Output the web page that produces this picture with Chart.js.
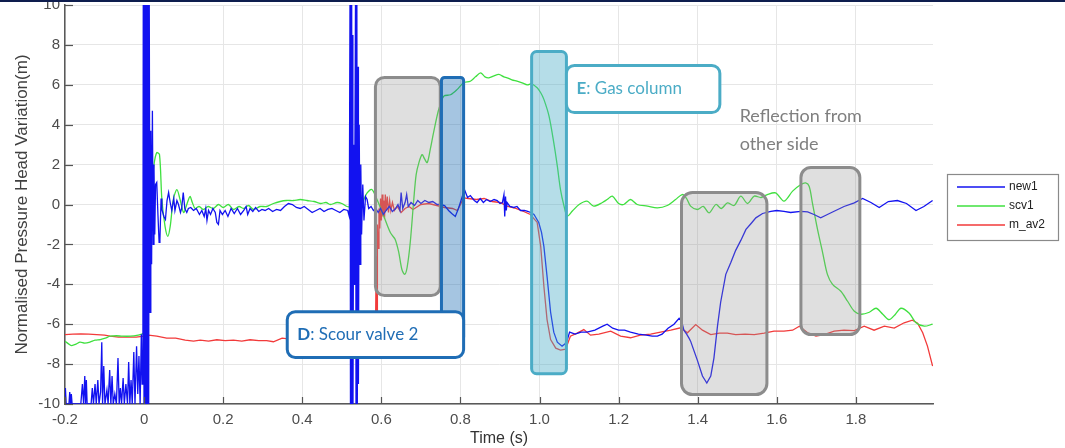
<!DOCTYPE html>
<html>
<head>
<meta charset="utf-8">
<script src="https://cdn.jsdelivr.net/npm/chart.js@4.4.1/dist/chart.umd.min.js"></script>
<style>
html,body{margin:0;padding:0;background:#fff;}
#wrap{position:relative;width:1065px;height:448px;}
</style>
</head>
<body>
<div id="wrap"><canvas id="c" width="1065" height="448"></canvas></div>
<script>
// ---------------- DATA ----------------
const seriesLabels = ['new1', 'scv1', 'm_av2'];
const xTickStep = 0.2;
const yTickStep = 2;

const new1Time = [
-0.200,-0.199,-0.197,-0.190,-0.188,-0.186,-0.184,-0.182,-0.160,-0.156,-0.153,-0.150,-0.148,-0.146,-0.144,
-0.134,-0.131,-0.128,-0.124,-0.121,-0.117,-0.114,-0.110,-0.107,-0.105,-0.102,-0.099,-0.094,-0.091,-0.087,
-0.084,-0.081,-0.078,-0.074,-0.070,-0.066,-0.063,-0.060,-0.057,-0.053,-0.050,-0.046,-0.042,-0.039,-0.036,
-0.033,-0.030,-0.026,-0.023,-0.019,-0.016,-0.013,-0.010,-0.007,-0.005,-0.003,-0.002,0.000,0.001,0.002,
0.003,0.004,0.005,0.006,0.007,0.008,0.009,0.010,0.011,0.012,0.013,0.015,0.017,0.019,0.021,
0.023,0.025,0.027,0.029,0.032,0.035,0.038,0.040,0.043,0.045,0.050,0.054,0.058,0.062,0.066,
0.070,0.075,0.078,0.083,0.087,0.092,0.095,0.099,0.103,0.108,0.112,0.118,0.125,0.132,0.140,
0.146,0.152,0.156,0.159,0.163,0.168,0.174,0.180,0.184,0.188,0.192,0.198,0.205,0.212,0.220,
0.228,0.236,0.244,0.252,0.258,0.262,0.268,0.275,0.282,0.290,0.298,0.306,0.315,0.325,0.335,
0.345,0.355,0.365,0.375,0.385,0.395,0.405,0.415,0.425,0.435,0.445,0.455,0.465,0.475,0.485,
0.495,0.505,0.515,0.519,0.521,0.522,0.524,0.525,0.527,0.528,0.530,0.532,0.533,0.535,0.536,
0.538,0.539,0.541,0.542,0.544,0.546,0.548,0.550,0.553,0.556,0.560,0.564,0.568,0.574,0.580,
0.586,0.592,0.598,0.605,0.612,0.620,0.628,0.636,0.642,0.647,0.650,0.654,0.660,0.664,0.668,
0.675,0.684,0.692,0.700,0.710,0.720,0.730,0.741,0.750,0.760,0.770,0.778,0.787,0.795,0.803,
0.810,0.818,0.825,0.835,0.842,0.850,0.858,0.866,0.875,0.885,0.893,0.900,0.906,0.910,0.912,
0.914,0.916,0.918,0.925,0.935,0.943,0.952,0.962,0.970,0.978,0.986,0.998,1.005,1.011,1.019,
1.028,1.036,1.045,1.057,1.064,1.070,1.076,1.090,1.105,1.120,1.140,1.160,1.171,1.185,1.200,
1.215,1.230,1.250,1.270,1.285,1.298,1.310,1.325,1.340,1.353,1.360,1.365,1.372,1.378,1.382,
1.390,1.399,1.412,1.423,1.433,1.441,1.450,1.458,1.471,1.484,1.496,1.509,1.522,1.535,1.547,
1.564,1.585,1.600,1.618,1.635,1.661,1.678,1.694,1.711,1.728,1.745,1.770,1.796,1.817,1.838,
1.859,1.882,1.905,1.928,1.952,1.972,1.994
];
const new1Head = [
-10,-9.2,-10,-10,-9.4,-10,-9.5,-10,-10,-9.0,-10,-8.6,-10,-8.8,-10,
-10,-9.2,-10,-9.0,-10,-8.8,-10,-9.4,-6.9,-10,-8.1,-10,-9.3,-10,-8.3,
-10,-8.6,-10,-9.5,-10,-7.7,-10,-9.2,-10,-8.7,-10,-9.0,-10,-7.9,-10,
-8.8,-10,-7.4,-10,-7.1,-9.5,-7.6,-10,-6.5,-9.0,-7.0,12,-12,12,-12,
12,-12,12,-12,12,-12,12,-12,12,-12,10.5,-5.4,3.7,-3.0,4.7,
-2.0,2.0,-1.5,1.0,1.1,-0.5,-1.9,-1.75,0.3,-0.25,-0.6,-0.75,0.2,0.6,0.1,
-0.3,0.3,-0.3,0.2,0.0,-0.4,-0.2,0.6,-0.2,-0.4,-0.2,-0.15,-0.3,-0.2,-0.5,
-0.3,-0.6,-0.2,-0.8,-0.3,-0.5,-0.2,-0.4,-0.9,-1.0,-0.3,-0.5,-0.3,-0.6,-0.2,
-0.45,-0.2,-0.5,-0.3,-0.1,-0.5,-0.2,-0.35,-0.15,-0.35,-0.25,-0.3,-0.2,-0.35,-0.25,
-0.3,-0.1,0.05,0.0,-0.15,-0.2,-0.1,-0.25,-0.4,-0.3,-0.2,-0.35,-0.25,-0.2,-0.3,
-0.4,-0.25,-0.3,-0.6,12,-12,12,-12,8.5,-12,3,-4,2,12,-12,
12,-12,6.9,-9,4,-3,2,-1.5,1.0,-0.8,0.4,0.25,-0.2,-0.1,-0.3,
-0.2,-0.4,-0.2,-0.5,-0.3,-0.1,-0.35,-0.2,0.0,-0.3,0.6,-0.2,0.1,0.5,-0.1,
0.1,-0.05,0.2,0.05,0.2,0.1,0.15,0.0,0.0,-0.05,-0.3,-0.45,-0.6,-0.2,0.3,
0.75,0.35,0.45,0.2,0.1,0.3,0.1,0.25,0.15,0.25,0.2,0.05,0.1,0.5,-0.6,
0.4,-0.3,0.1,-0.1,-0.15,-0.1,-0.3,-0.3,-0.35,-0.4,-0.5,-0.9,-1.4,-2.1,-3.6,
-5.4,-6.4,-6.9,-7.1,-7.0,-6.8,-6.4,-6.5,-6.4,-6.4,-6.3,-6.1,-6.0,-6.2,-6.3,
-6.3,-6.4,-6.5,-6.55,-6.6,-6.6,-6.5,-6.2,-6.0,-5.7,-5.9,-6.3,-6.5,-6.7,-6.85,
-7.3,-7.8,-8.6,-8.95,-8.6,-7.7,-6.1,-4.9,-3.5,-2.9,-2.3,-1.8,-1.25,-0.95,-0.67,
-0.45,-0.34,-0.3,-0.34,-0.4,-0.34,-0.37,-0.5,-0.67,-0.5,-0.34,-0.1,0.08,0.3,0.1,
-0.15,0.15,0.2,0.05,-0.3,-0.1,0.2
];

const scv1Time = [
-0.200,-0.190,-0.183,-0.172,-0.162,-0.150,-0.137,-0.124,-0.111,-0.098,-0.086,-0.070,-0.055,-0.035,-0.015,
-0.006,0.002,0.007,0.010,0.015,0.020,0.025,0.032,0.039,0.045,0.053,0.060,0.066,0.074,0.083,
0.091,0.100,0.108,0.116,0.122,0.129,0.139,0.150,0.162,0.175,0.188,0.200,0.213,0.226,0.240,
0.252,0.264,0.277,0.293,0.310,0.327,0.344,0.360,0.378,0.395,0.412,0.430,0.446,0.460,0.471,
0.488,0.500,0.513,0.525,0.538,0.552,0.564,0.576,0.589,0.606,0.623,0.635,0.644,0.652,0.659,
0.665,0.673,0.682,0.688,0.695,0.703,0.709,0.716,0.724,0.732,0.745,0.758,0.775,0.792,0.808,
0.825,0.838,0.851,0.862,0.872,0.885,0.897,0.910,0.918,0.930,0.943,0.956,0.969,0.980,0.994,
1.003,1.011,1.024,1.036,1.045,1.053,1.062,1.070,1.083,1.100,1.120,1.137,1.159,1.171,1.184,
1.200,1.213,1.230,1.247,1.273,1.298,1.323,1.344,1.361,1.372,1.382,1.399,1.414,1.429,1.446,
1.460,1.475,1.492,1.509,1.526,1.543,1.560,1.576,1.597,1.618,1.640,1.661,1.673,1.682,1.690,
1.703,1.716,1.728,1.741,1.762,1.779,1.796,1.813,1.834,1.851,1.868,1.884,1.900,1.914,1.935,
1.952,1.973,1.994
];
const scv1Head = [
-6.85,-7.0,-7.07,-7.0,-6.9,-6.95,-6.9,-6.8,-6.77,-6.7,-6.6,-6.58,-6.6,-6.6,-6.55,
-6.5,-6.4,-5.8,-4.8,-1.75,0.9,2.0,2.6,2.5,0.25,-1.1,-1.6,-1.1,0.25,0.75,
0.25,-0.4,0.0,0.4,0.1,-0.2,-0.1,-0.25,-0.1,-0.2,0.0,-0.15,0.0,-0.25,-0.1,
-0.2,-0.05,-0.25,-0.1,-0.1,0.05,0.15,0.2,0.2,0.25,0.2,0.15,0.05,0.1,0.0,
0.1,0.05,-0.1,-0.15,-0.33,0.1,0.58,0.75,0.25,-0.58,-1.42,-1.75,-2.4,-3.26,-3.5,
-3.17,-1.92,0.25,1.5,2.1,2.5,2.3,2.1,2.8,3.6,4.76,5.43,5.5,5.77,6.1,
6.18,6.4,6.6,6.4,6.35,6.45,6.52,6.4,6.35,6.25,6.18,6.1,6.0,6.05,5.85,
5.6,5.27,4.43,3.1,1.92,0.75,-0.08,-0.58,-0.33,0.0,0.17,-0.08,0.1,0.25,0.42,
0.05,0.0,0.25,0.0,-0.08,-0.17,-0.05,0.25,0.5,0.3,-0.08,-0.25,-0.1,-0.42,0.0,
-0.2,0.08,-0.05,0.42,0.05,0.42,0.35,0.5,0.58,0.17,0.67,1.0,1.08,0.9,0.08,
-1.25,-2.42,-3.5,-4.0,-4.35,-4.85,-5.35,-5.5,-5.4,-5.2,-5.5,-5.77,-5.5,-5.2,-5.45,
-5.93,-6.1,-6.0
];

const mav2Time = [
-0.200,-0.180,-0.160,-0.140,-0.120,-0.100,-0.086,-0.065,-0.044,-0.020,0.000,0.011,0.032,0.057,0.080,
0.104,0.125,0.142,0.163,0.184,0.205,0.226,0.247,0.268,0.290,0.310,0.327,0.349,0.370,0.400,
0.450,0.500,0.550,0.585,0.587,0.589,0.590,0.592,0.594,0.596,0.598,0.600,0.602,0.604,0.606,
0.608,0.610,0.612,0.615,0.618,0.621,0.624,0.628,0.633,0.640,0.650,0.660,0.670,0.680,0.700,
0.720,0.740,0.760,0.780,0.792,0.800,0.808,0.820,0.840,0.860,0.880,0.900,0.920,0.940,0.960,
0.977,0.994,1.003,1.011,1.019,1.028,1.041,1.053,1.066,1.078,1.095,1.112,1.129,1.150,1.180,
1.205,1.230,1.255,1.281,1.306,1.332,1.357,1.374,1.395,1.412,1.433,1.455,1.475,1.496,1.520,
1.543,1.568,1.593,1.618,1.640,1.657,1.678,1.699,1.720,1.745,1.770,1.796,1.821,1.846,1.872,
1.897,1.922,1.943,1.956,1.969,1.981,1.994
];
const mav2Head = [
-6.52,-6.5,-6.48,-6.5,-6.52,-6.55,-6.6,-6.65,-6.65,-6.65,-6.6,-6.55,-6.6,-6.7,-6.7,
-6.8,-6.85,-6.8,-6.85,-6.78,-6.82,-6.8,-6.85,-6.78,-6.82,-6.82,-6.88,-6.7,-6.75,-6.8,
-6.8,-6.8,-6.8,-6.8,-2.6,-5.5,-1.0,-2.2,-0.2,-1.2,0.3,-0.8,0.5,-0.6,0.2,
-0.7,0.5,-0.3,0.4,-0.4,0.2,-0.3,0.1,-0.3,-0.1,-0.4,-0.2,-0.1,-0.25,0.0,
0.05,-0.05,-0.15,-0.2,-0.3,0.0,0.33,0.3,0.25,0.3,0.15,0.1,-0.1,-0.2,-0.35,
-0.5,-0.9,-2.1,-4.1,-5.77,-6.77,-7.2,-7.3,-7.25,-6.6,-6.45,-6.27,-6.55,-6.5,-6.35,
-6.6,-6.68,-6.55,-6.5,-6.4,-6.3,-6.18,-6.43,-6.02,-6.3,-6.52,-6.45,-6.45,-6.52,-6.5,
-6.52,-6.45,-6.35,-6.35,-6.3,-6.1,-6.43,-6.6,-6.52,-6.35,-6.3,-6.32,-6.1,-6.3,-6.1,
-6.2,-5.93,-5.8,-5.95,-6.43,-7.1,-8.1
];

// ---------------- ANNOTATIONS (in data units) ----------------
const shadedBoxes = [
  {x0:0.585, x1:0.749, y0:6.37, y1:-4.56, fill:'rgba(150,150,150,0.30)', stroke:'#8c8c8c', r:9},
  {x0:0.752, x1:0.808, y0:6.37, y1:-6.8,  fill:'rgba(31,109,181,0.40)', stroke:'#1f6db5', r:3},
  {x0:0.980, x1:1.068, y0:7.67, y1:-8.48, fill:'rgba(75,172,198,0.41)', stroke:'#4bacc6', r:5},
  {x0:1.359, x1:1.575, y0:0.6,  y1:-9.53, fill:'rgba(150,150,150,0.30)', stroke:'#8c8c8c', r:11},
  {x0:1.661, x1:1.810, y0:1.86, y1:-6.52, fill:'rgba(150,150,150,0.30)', stroke:'#8c8c8c', r:10}
];
const labelBoxes = [
  {x0:0.362, x1:0.808, y0:-5.37, y1:-7.67, stroke:'#1f6db5', color:'#1f6db5', key:'D', text:': Scour valve 2'},
  {x0:1.068, x1:1.456, y0:6.97,  y1:4.61,  stroke:'#4bacc6', color:'#4bacc6', key:'E', text:': Gas column'}
];
const noteText = {x:1.506, y:4.41, lineGap:1.4, lines:['Reflection from', 'other side'], color:'#7f7f7f'};

// ---------------- CHART ----------------
function pts(t, v){ return t.map((x,i)=>({x:x, y:v[i]})); }

const overlayPlugin = {
  id:'overlay',
  afterDatasetsDraw(chart){
    const ctx = chart.ctx, xs = chart.scales.x, ys = chart.scales.y;
    ctx.save();
    shadedBoxes.forEach(b=>{
      const l = xs.getPixelForValue(b.x0), r = xs.getPixelForValue(b.x1);
      const t = ys.getPixelForValue(b.y0), bt = ys.getPixelForValue(b.y1);
      ctx.beginPath();
      ctx.roundRect(l, t, r-l, bt-t, b.r);
      ctx.fillStyle = b.fill; ctx.fill();
      ctx.lineWidth = 3; ctx.strokeStyle = b.stroke; ctx.stroke();
    });
    labelBoxes.forEach(b=>{
      const l = xs.getPixelForValue(b.x0), r = xs.getPixelForValue(b.x1);
      const t = ys.getPixelForValue(b.y0), bt = ys.getPixelForValue(b.y1);
      ctx.beginPath();
      ctx.roundRect(l, t, r-l, bt-t, 8);
      ctx.fillStyle = '#ffffff'; ctx.fill();
      ctx.lineWidth = 3; ctx.strokeStyle = b.stroke; ctx.stroke();
      const cy = (t+bt)/2;
      ctx.textBaseline = 'middle'; ctx.textAlign = 'left';
      ctx.fillStyle = b.color;
      ctx.font = 'bold 17px Lato, "Open Sans", sans-serif';
      ctx.fillText(b.key, l+10, cy);
      const kw = ctx.measureText(b.key).width;
      ctx.font = '17px Lato, "Open Sans", sans-serif';
      ctx.fillText(b.text, l+10+kw, cy);
    });
    ctx.fillStyle = noteText.color;
    ctx.font = '18px Lato, "Open Sans", sans-serif';
    ctx.textBaseline = 'middle'; ctx.textAlign = 'left';
    noteText.lines.forEach((s,i)=>{
      ctx.fillText(s, xs.getPixelForValue(noteText.x), ys.getPixelForValue(noteText.y - i*noteText.lineGap));
    });
    ctx.restore();
  },
  afterDraw(chart){
    const ctx = chart.ctx, xs = chart.scales.x, ys = chart.scales.y, a = chart.chartArea;
    ctx.save();
    // inward tick marks (MATLAB style)
    ctx.strokeStyle = '#555'; ctx.lineWidth = 1.2;
    xs.ticks.forEach(tk=>{
      const px = Math.round(xs.getPixelForValue(tk.value))+0.5;
      ctx.beginPath(); ctx.moveTo(px, a.bottom); ctx.lineTo(px, a.bottom-7); ctx.stroke();
    });
    ys.ticks.forEach(tk=>{
      const py = Math.round(ys.getPixelForValue(tk.value))+0.5;
      ctx.beginPath(); ctx.moveTo(a.left, py); ctx.lineTo(a.left+8, py); ctx.stroke();
    });
    // legend
    const lx = 947, ly = 174, lw = 111, lh = 66;
    ctx.fillStyle = '#fff'; ctx.fillRect(lx, ly, lw, lh);
    ctx.strokeStyle = '#8a8a8a'; ctx.lineWidth = 1.2; ctx.strokeRect(lx+0.5, ly+0.5, lw, lh);
    ctx.font = '12px "Liberation Sans", Arial, sans-serif';
    ctx.textBaseline = 'middle'; ctx.textAlign = 'left';
    chart.data.datasets.forEach((ds,i)=>{
      const y = ly + 13 + i*19;
      ctx.strokeStyle = ds.borderColor; ctx.lineWidth = 1.3;
      ctx.beginPath(); ctx.moveTo(lx+10, y); ctx.lineTo(lx+58, y); ctx.stroke();
      ctx.fillStyle = '#222'; ctx.fillText(ds.label, lx+62, y);
    });
    // top navy border
    ctx.fillStyle = '#0e1d4e'; ctx.fillRect(0, 0, chart.width, 2);
    ctx.restore();
  }
};

new Chart(document.getElementById('c'), {
  type:'line',
  data:{
    datasets:[
      {label:seriesLabels[0], data:pts(new1Time,new1Head), borderColor:'#1212f0', borderWidth:1.3, pointRadius:0, tension:0},
      {label:seriesLabels[1], data:pts(scv1Time,scv1Head), borderColor:'#3fe03f', borderWidth:1.3, pointRadius:0, tension:0.3},
      {label:seriesLabels[2], data:pts(mav2Time,mav2Head), borderColor:'#f23a3a', borderWidth:1.3, pointRadius:0, tension:0}
    ]
  },
  options:{
    responsive:false, animation:false, events:[],
    layout:{padding:{left:0, right:132, top:5, bottom:0}},
    plugins:{legend:{display:false}, tooltip:{enabled:false}},
    scales:{
      x:{
        type:'linear', min:-0.2, max:1.995,
        afterFit(s){ s.height = 44; s.paddingLeft = 0; s.paddingRight = 0; },
        ticks:{stepSize:xTickStep, includeBounds:false, padding:7, color:'#4d4d4d', font:{family:'"Liberation Sans", Arial, sans-serif', size:15}, maxRotation:0},
        grid:{color:'#e6e6e6', lineWidth:1, drawTicks:false},
        border:{color:'#595959', width:1.5},
        title:{display:true, text:'Time (s)', color:'#333', font:{family:'"Liberation Sans", Arial, sans-serif', size:16}, padding:{top:0, bottom:0}}
      },
      y:{
        min:-10, max:10,
        afterFit(s){ s.width = 65; s.paddingTop = 0; s.paddingBottom = 0; },
        ticks:{stepSize:yTickStep, padding:5, color:'#4d4d4d', font:{family:'"Liberation Sans", Arial, sans-serif', size:15}},
        grid:{color:'#e6e6e6', lineWidth:1, drawTicks:false},
        border:{color:'#595959', width:1.5},
        title:{display:true, text:'Normalised Pressure Head Variation(m)', color:'#404040', font:{family:'"Liberation Sans", Arial, sans-serif', size:17}, padding:{top:12, bottom:0}}
      }
    }
  },
  plugins:[overlayPlugin]
});
</script>
</body>
</html>
